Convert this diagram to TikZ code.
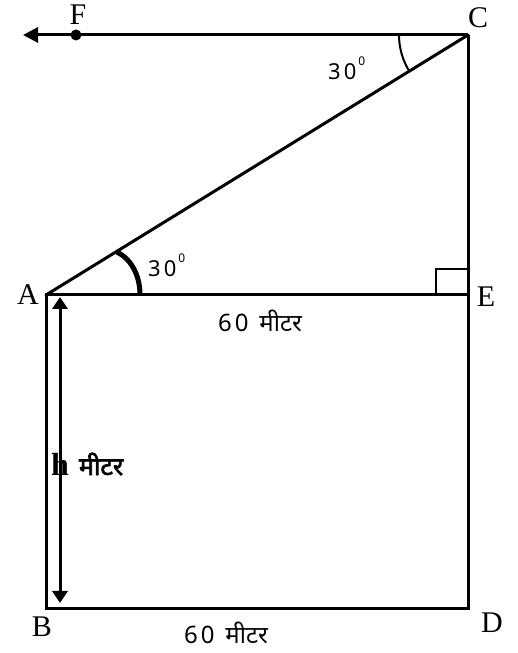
\documentclass[tikz,border=0pt]{standalone}
\usepackage{fontspec}
\setmainfont{Liberation Serif}
\newfontfamily\deva[Script=Devanagari]{Noto Sans}
\newfontfamily\devab[Script=Devanagari,FakeBold=2.5]{Noto Sans}
\usetikzlibrary{arrows.meta}
\newcommand{\degsup}{\raisebox{0.62em}{\fontsize{12}{13}\selectfont 0}}
\begin{document}
\begin{tikzpicture}[x=1pt,y=1pt,
  main/.style={line width=3pt, draw=black},
  lbl/.style={font=\fontsize{30}{32}\selectfont, inner sep=0pt},
  dlbl/.style={font=\deva\fontsize{24}{26}\selectfont, inner sep=0pt},
  ang/.style={font=\deva\fontsize{22}{24}\selectfont, inner sep=0pt}]
\useasboundingbox (0,0) rectangle (517,653);
% points
\coordinate (C) at (468,618);
\coordinate (F) at (76,618);
\coordinate (T) at (23,618);
\coordinate (A) at (46,358);
\coordinate (E) at (468,358);
\coordinate (B) at (46,44);
\coordinate (D) at (468,44);
\coordinate (Ht) at (60,356);
\coordinate (Hb) at (60,50);
% lines
\draw[main, line cap=rect] (A) -- (E) -- (D) -- (B) -- cycle;
\draw[main] (E) -- (C);
\draw[main, line cap=round] (A) -- (C);
\draw[main, -{Triangle[length=15pt,width=15pt]}] (C) -- (T);
\fill (F) circle (5.5pt);
\draw[main, {Triangle[length=12pt,width=15pt]}-{Triangle[length=12pt,width=15pt]}] (Ht) -- (Hb);
% right angle
\draw[line width=2pt] (436,358) -- (436,384) -- (468,384);
% angle arcs
\draw[line width=5pt] (140,358) .. controls (140,378) and (131,394) .. (117,401);
\draw[line width=2pt] (C) ++(180:69) arc[start angle=180, end angle=211.6, radius=69];
% labels
\node[lbl] (lF) at (78,638) {F};
\node[lbl] (lC) at (478,635) {C};
\node[lbl] (lA) at (28,358) {A};
\node[lbl] (lE) at (486,356) {E};
\node[lbl] (lB) at (42,26) {B};
\node[lbl] (lD) at (492,30) {D};
\node[ang, anchor=west] (a1) at (148,388) {3\kern3pt0\kern2pt\degsup};
\node[ang, anchor=west] (a2) at (328,585) {3\kern3pt0\kern2pt\degsup};
\node[dlbl] (m1) at (260,332) {6\kern3pt0\kern11pt मीटर};
\node[dlbl] (m2) at (226,20) {6\kern3pt0\kern11pt मीटर};
\node[inner sep=0pt, anchor=west] (h) at (51,189) {\fontsize{32}{34}\selectfont\bfseries h\kern10pt{\devab\fontsize{25}{27}\selectfont मीटर}};
\end{tikzpicture}
\end{document}
